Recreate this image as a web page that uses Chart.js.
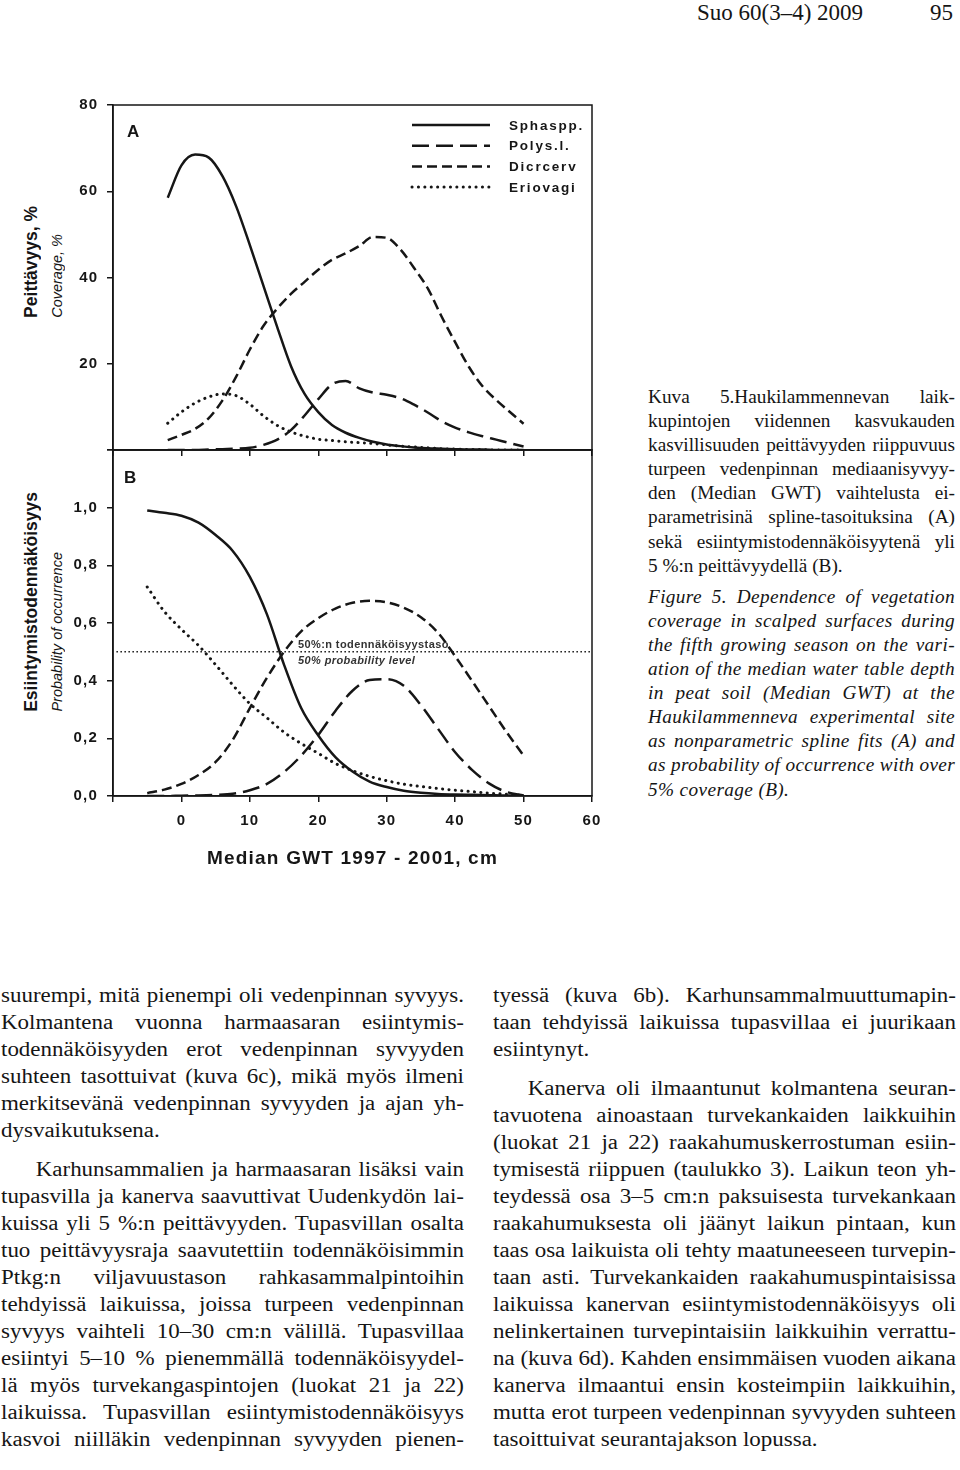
<!DOCTYPE html>
<html>
<head>
<meta charset="utf-8">
<script src="https://cdn.jsdelivr.net/npm/chart.js@4.4.0/dist/chart.umd.min.js"></script>
<style>
html, body { margin: 0; padding: 0; background: #fff; }
#page { position: relative; width: 960px; height: 1470px; overflow: hidden; color: #151515; }
canvas { position: absolute; left: 0; }
.sans { font-family: "Liberation Sans", Arial, sans-serif; }
.serif { font-family: "Liberation Serif", "Times New Roman", serif; }
.vt { position: absolute; writing-mode: vertical-rl; transform: rotate(180deg); white-space: nowrap; }
.tag { position: absolute; font-family: "Liberation Sans", Arial, sans-serif; font-weight: bold; font-size: 17px; }
.lvl { position: absolute; left: 298px; font-family: "Liberation Sans", Arial, sans-serif; font-weight: bold; font-size: 11px; letter-spacing: 0.4px; color: #333; white-space: nowrap; }
.col { position: absolute; font-family: "Liberation Serif", "Times New Roman", serif; transform-origin: 0 0; }
.ln { white-space: nowrap; text-align: justify; text-align-last: justify; }
.ln.end { text-align-last: left; }
.body .ln { font-size: 20.5px; height: 27px; line-height: 27px; }
.body .ln.ind { text-indent: 31px; }
.body .gap { height: 12px; }
.cap .ln { font-size: 18px; height: 24.1px; line-height: 24.1px; }
.cap .gap { height: 7px; }
.it { font-style: italic; letter-spacing: 0.35px; }
</style>
</head>
<body>
<div id="page">
  <div class="serif" style="position:absolute; left:697px; top:-1px; font-size:23px; line-height:28px;">Suo 60(3–4) 2009</div>
  <div class="serif" style="position:absolute; left:930px; top:-1px; font-size:23px; line-height:28px;">95</div>

  <div class="vt sans" style="left:21px; bottom:1152px; font-size:17.5px; font-weight:bold; line-height:20px;">Peittävyys, %</div>
  <div class="vt sans" style="left:48px; bottom:1152px; font-size:14.5px; font-style:italic; line-height:18px;">Coverage, %</div>
  <div class="vt sans" style="left:21px; bottom:758px; font-size:17.5px; font-weight:bold; line-height:20px;">Esiintymistodennäköisyys</div>
  <div class="vt sans" style="left:48px; bottom:758px; font-size:14.5px; font-style:italic; line-height:18px;">Probability of occurrence</div>

  <canvas id="chartA" width="610" height="367" style="top:95px;"></canvas>
  <canvas id="chartB" width="610" height="440" style="top:440px;"></canvas>

  <div class="tag" style="left:127px; top:122px;">A</div>
  <div class="tag" style="left:124px; top:468px;">B</div>
  <div class="lvl" style="top:638px;">50%:n todennäköisyystaso</div>
  <div class="lvl" style="top:654px; font-style:italic;">50% probability level</div>

  <div class="col cap" data-w="307" data-s="1.07" style="left:648px; top:385px;">
    <div class="ln">Kuva 5.Haukilammennevan laik-</div>
    <div class="ln">kupintojen viidennen kasvukauden</div>
    <div class="ln">kasvillisuuden peittävyyden riippuvuus</div>
    <div class="ln">turpeen vedenpinnan mediaanisyvyy-</div>
    <div class="ln">den (Median GWT) vaihtelusta ei-</div>
    <div class="ln">parametrisinä spline-tasoituksina (A)</div>
    <div class="ln">sekä esiintymistodennäköisyytenä yli</div>
    <div class="ln end">5 %:n peittävyydellä (B).</div>
    <div class="gap"></div>
    <div class="ln it">Figure 5. Dependence of vegetation</div>
    <div class="ln it">coverage in scalped surfaces during</div>
    <div class="ln it">the fifth growing season on the vari-</div>
    <div class="ln it">ation of the median water table depth</div>
    <div class="ln it">in peat soil (Median GWT) at the</div>
    <div class="ln it">Haukilammenneva experimental site</div>
    <div class="ln it">as nonparametric spline fits (A) and</div>
    <div class="ln it">as probability of occurrence with over</div>
    <div class="ln it end">5% coverage (B).</div>
  </div>

  <div class="col body" data-w="463" data-s="1.12" style="left:1px; top:982px;">
    <div class="ln">suurempi, mitä pienempi oli vedenpinnan syvyys.</div>
    <div class="ln">Kolmantena vuonna harmaasaran esiintymis-</div>
    <div class="ln">todennäköisyyden erot vedenpinnan syvyyden</div>
    <div class="ln">suhteen tasottuivat (kuva 6c), mikä myös ilmeni</div>
    <div class="ln">merkitsevänä vedenpinnan syvyyden ja ajan yh-</div>
    <div class="ln end">dysvaikutuksena.</div>
    <div class="gap"></div>
    <div class="ln ind">Karhunsammalien ja harmaasaran lisäksi vain</div>
    <div class="ln">tupasvilla ja kanerva saavuttivat Uudenkydön lai-</div>
    <div class="ln">kuissa yli 5 %:n peittävyyden. Tupasvillan osalta</div>
    <div class="ln">tuo peittävyysraja saavutettiin todennäköisimmin</div>
    <div class="ln">Ptkg:n viljavuustason rahkasammalpintoihin</div>
    <div class="ln">tehdyissä laikuissa, joissa turpeen vedenpinnan</div>
    <div class="ln">syvyys vaihteli 10–30 cm:n välillä. Tupasvillaa</div>
    <div class="ln">esiintyi 5–10 % pienemmällä todennäköisyydel-</div>
    <div class="ln">lä myös turvekangaspintojen (luokat 21 ja 22)</div>
    <div class="ln">laikuissa. Tupasvillan esiintymistodennäköisyys</div>
    <div class="ln">kasvoi niilläkin vedenpinnan syvyyden pienen-</div>
  </div>

  <div class="col body" data-w="463" data-s="1.12" style="left:493px; top:982px;">
    <div class="ln">tyessä (kuva 6b). Karhunsammalmuuttumapin-</div>
    <div class="ln">taan tehdyissä laikuissa tupasvillaa ei juurikaan</div>
    <div class="ln end">esiintynyt.</div>
    <div class="gap"></div>
    <div class="ln ind">Kanerva oli ilmaantunut kolmantena seuran-</div>
    <div class="ln">tavuotena ainoastaan turvekankaiden laikkuihin</div>
    <div class="ln">(luokat 21 ja 22) raakahumuskerrostuman esiin-</div>
    <div class="ln">tymisestä riippuen (taulukko 3). Laikun teon yh-</div>
    <div class="ln">teydessä osa 3–5 cm:n paksuisesta turvekankaan</div>
    <div class="ln">raakahumuksesta oli jäänyt laikun pintaan, kun</div>
    <div class="ln">taas osa laikuista oli tehty maatuneeseen turvepin-</div>
    <div class="ln">taan asti. Turvekankaiden raakahumuspintaisissa</div>
    <div class="ln">laikuissa kanervan esiintymistodennäköisyys oli</div>
    <div class="ln">nelinkertainen turvepintaisiin laikkuihin verrattu-</div>
    <div class="ln">na (kuva 6d). Kahden ensimmäisen vuoden aikana</div>
    <div class="ln">kanerva ilmaantui ensin kosteimpiin laikkuihin,</div>
    <div class="ln">mutta erot turpeen vedenpinnan syvyyden suhteen</div>
    <div class="ln end">tasoittuivat seurantajakson lopussa.</div>
  </div>
</div>

<script>
const INK = '#161616';

// Panel A: coverage, % against median GWT (cm)
const gwtA = [-2, 0, 2, 4, 6, 8, 10, 12, 14, 16, 18, 20, 22, 24, 26, 28, 30, 32, 34, 36, 38, 40, 42, 44, 46, 48, 50];
const sphA = [58.5, 66, 68.5, 67.8, 63.5, 56.5, 47.5, 38, 28.5, 19.5, 13, 8.8, 5.8, 4.0, 2.8, 1.9, 1.3, 0.9, 0.6, 0.4, 0.3, 0.2, 0.1, 0.1, 0, 0, 0];
const polA = [0, 0, 0, 0.1, 0.2, 0.3, 0.5, 1.2, 2.4, 4.6, 8.0, 11.8, 15.2, 16.0, 14.3, 13.3, 12.8, 12.0, 10.5, 8.7, 6.7, 5.2, 4.1, 3.2, 2.4, 1.6, 0.8];
const dicA = [2.3, 3.5, 4.9, 7.4, 11.5, 17, 23.3, 28.8, 32.8, 36.2, 39, 41.8, 44.1, 45.6, 47.3, 49.4, 49.2, 46.5, 42.2, 37.5, 31, 25, 19.3, 14.8, 11.6, 8.8, 6.1];
const eriA = [6.2, 8.8, 10.9, 12.3, 13.0, 12.6, 10.6, 7.9, 5.7, 4.2, 3.2, 2.5, 2.2, 1.9, 1.7, 1.5, 1.2, 0.9, 0.7, 0.5, 0.3, 0.2, 0.1, 0.1, 0, 0, 0];

// Panel B: probability of occurrence (over 5 % coverage)
const gwtB = [-5, -2.5, 0, 2.5, 5, 7.5, 10, 12.5, 15, 17.5, 20, 22.5, 25, 27.5, 30, 32.5, 35, 37.5, 40, 42.5, 45, 47.5, 50];
const sphB = [0.99, 0.982, 0.972, 0.948, 0.905, 0.85, 0.76, 0.63, 0.455, 0.305, 0.21, 0.135, 0.085, 0.05, 0.031, 0.018, 0.011, 0.007, 0.005, 0.004, 0.003, 0.002, 0.002];
const polB = [0, 0, 0.001, 0.002, 0.004, 0.008, 0.02, 0.042, 0.083, 0.14, 0.212, 0.295, 0.365, 0.402, 0.405, 0.382, 0.315, 0.233, 0.152, 0.09, 0.043, 0.014, 0.002];
const dicB = [0.01, 0.022, 0.042, 0.073, 0.118, 0.195, 0.305, 0.41, 0.5, 0.571, 0.617, 0.65, 0.67, 0.677, 0.672, 0.653, 0.62, 0.566, 0.485, 0.398, 0.31, 0.222, 0.14];
const eriB = [0.725, 0.64, 0.578, 0.522, 0.455, 0.385, 0.32, 0.271, 0.221, 0.182, 0.148, 0.113, 0.088, 0.068, 0.053, 0.041, 0.033, 0.026, 0.02, 0.015, 0.01, 0.006, 0.002];

// 50 % probability level
const levelX = [-9.5, 60];
const levelY = [0.5, 0.5];

const SPECIES = ['Sphaspp.', 'Polys.l.', 'Dicrcerv', 'Eriovagi'];
const LINE_STYLE = {
    'Sphaspp.': { borderDash: [], borderWidth: 2.5, borderCapStyle: 'butt' },
    'Polys.l.': { borderDash: [17, 7], borderWidth: 2.5, borderCapStyle: 'butt' },
    'Dicrcerv': { borderDash: [10, 5], borderWidth: 2.5, borderCapStyle: 'butt' },
    'Eriovagi': { borderDash: [0.1, 6.3], borderWidth: 3, borderCapStyle: 'round' }
};

const tickFont = { family: '"Liberation Sans", Arial, sans-serif', size: 15, weight: 'bold' };

function toPoints(xs, ys) {
    return xs.map((x, i) => ({ x: x, y: ys[i] }));
}

function speciesSets(xs, series) {
    return series.map((ys, i) => {
        const name = SPECIES[i];
        return Object.assign({
            label: name,
            data: toPoints(xs, ys),
            borderColor: INK,
            pointRadius: 0,
            fill: false,
            cubicInterpolationMode: 'monotone'
        }, LINE_STYLE[name]);
    });
}

// wider letter spacing for ticks and axis title
const spacing = {
    id: 'spacing',
    beforeDraw(chart, args, opts) { chart.ctx.letterSpacing = opts.value || '0px'; }
};

// box round the plot area
const framePlugin = {
    id: 'frame',
    beforeDatasetsDraw(chart) {
        const { ctx, chartArea: a } = chart;
        ctx.save();
        ctx.strokeStyle = INK;
        ctx.lineWidth = 1.5;
        ctx.strokeRect(a.left, a.top, a.right - a.left, a.bottom - a.top);
        ctx.restore();
    }
};

// legend sits inside panel A, top right
const insideLegend = {
    id: 'insideLegend',
    afterDatasetsDraw(chart) {
        const { ctx, chartArea: a } = chart;
        ctx.save();
        chart.data.datasets.forEach((ds, i) => {
            const y = a.top + 20 + i * 20.7;
            const x0 = a.right - 180;
            ctx.beginPath();
            ctx.setLineDash(ds.borderDash);
            ctx.lineCap = ds.borderCapStyle;
            ctx.lineWidth = ds.borderWidth;
            ctx.strokeStyle = ds.borderColor;
            ctx.moveTo(x0, y);
            ctx.lineTo(x0 + 78, y);
            ctx.stroke();
            ctx.setLineDash([]);
            ctx.font = 'bold 13.5px "Liberation Sans", Arial, sans-serif';
            ctx.letterSpacing = '1.8px';
            ctx.fillStyle = INK;
            ctx.textBaseline = 'middle';
            ctx.textAlign = 'left';
            ctx.fillText(ds.label, x0 + 97, y + 1);
        });
        ctx.restore();
    }
};

// fixed axis sizes so both panels line up exactly
function fixBox(w, h) {
    return s => {
        if (w != null) s.width = w;
        if (h != null) s.height = h;
        s.paddingTop = 0; s.paddingBottom = 0; s.paddingLeft = 0; s.paddingRight = 0;
    };
}

function axisLook(extra) {
    return Object.assign({
        grid: { drawOnChartArea: false, drawTicks: true, tickLength: 6, color: INK, lineWidth: 1.5 },
        border: { display: true, color: INK, width: 1.5 }
    }, extra);
}

new Chart(document.getElementById('chartA'), {
    type: 'line',
    data: { datasets: speciesSets(gwtA, [sphA, polA, dicA, eriA]) },
    options: {
        responsive: false,
        animation: false,
        layout: { padding: { top: 10, right: 18, left: 0, bottom: 0 } },
        plugins: { legend: { display: false }, tooltip: { enabled: false }, spacing: { value: '1px' } },
        scales: {
            x: axisLook({
                type: 'linear', min: -10, max: 60,
                ticks: { stepSize: 10, display: false },
                afterFit: fixBox(null, 12)
            }),
            y: axisLook({
                min: 0, max: 80,
                ticks: { stepSize: 20, font: tickFont, color: INK, padding: 9, callback: v => v === 0 ? '' : v },
                afterFit: fixBox(113, null)
            })
        }
    },
    plugins: [spacing, framePlugin, insideLegend]
});

const setsB = speciesSets(gwtB, [sphB, polB, dicB, eriB]);
setsB.push({
    label: '50% probability level',
    data: toPoints(levelX, levelY),
    borderColor: INK,
    borderWidth: 1.5,
    borderDash: [1.5, 2.5],
    pointRadius: 0,
    tension: 0
});

new Chart(document.getElementById('chartB'), {
    type: 'line',
    data: { datasets: setsB },
    options: {
        responsive: false,
        animation: false,
        layout: { padding: { top: 10, right: 18, left: 0, bottom: 0 } },
        plugins: { legend: { display: false }, tooltip: { enabled: false }, spacing: { value: '1.2px' } },
        scales: {
            x: axisLook({
                type: 'linear', min: -10, max: 60,
                ticks: { stepSize: 10, font: tickFont, color: INK, padding: 10, maxRotation: 0, callback: v => v < 0 ? '' : v },
                title: {
                    display: true, text: 'Median GWT 1997 - 2001, cm', color: INK,
                    font: { family: '"Liberation Sans", Arial, sans-serif', size: 19, weight: 'bold' },
                    padding: { top: 0, bottom: 10 }
                },
                afterFit: fixBox(null, 84)
            }),
            y: axisLook({
                min: 0, max: 1.2,
                ticks: { stepSize: 0.2, font: tickFont, color: INK, padding: 9,
                    callback: v => v > 1.05 ? '' : v.toFixed(1).replace('.', ',') },
                afterFit: fixBox(113, null)
            })
        }
    },
    plugins: [spacing, framePlugin]
});

// text columns: glyphs a little wider than Times, lines justified, overfull lines squeezed
document.querySelectorAll('.col').forEach(col => {
    const W = +col.dataset.w, s = +col.dataset.s;
    col.style.width = (W / s) + 'px';
    col.style.transform = 'scaleX(' + s + ')';
    col.querySelectorAll('.ln').forEach(el => {
        const indent = el.classList.contains('ind') ? parseFloat(getComputedStyle(el).textIndent) : 0;
        const avail = W / s - indent;
        el.style.textAlignLast = 'left';
        const r = document.createRange();
        r.selectNodeContents(el);
        const w = r.getBoundingClientRect().width / s;
        el.style.textAlignLast = '';
        if (w > avail - 0.5) {
            const ls = parseFloat(getComputedStyle(el).letterSpacing) || 0;
            el.style.letterSpacing = (ls + (avail - 0.5 - w) / el.textContent.length).toFixed(3) + 'px';
        }
    });
});
</script>
</body>
</html>
